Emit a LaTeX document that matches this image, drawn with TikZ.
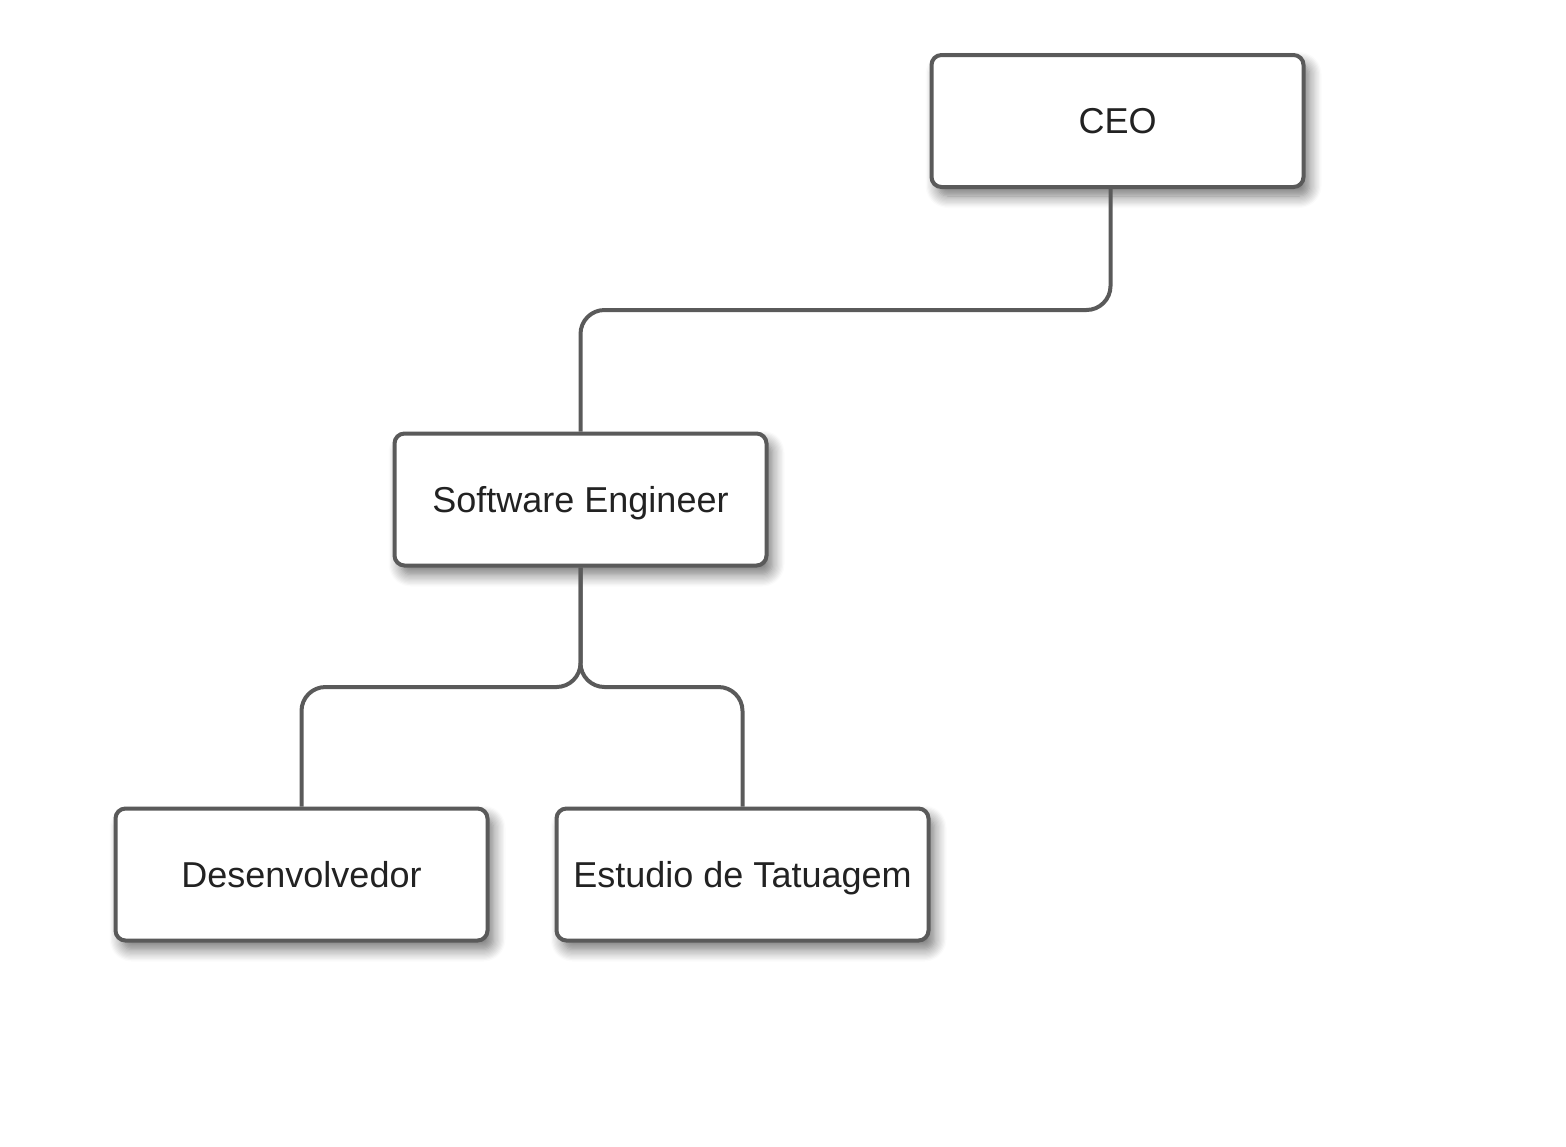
\documentclass[tikz,border=0pt]{standalone}
\usepackage{fontspec}
\setmainfont{Liberation Sans}
\usetikzlibrary{shadows.blur}
\definecolor{edgegray}{HTML}{5A5A5A}
\definecolor{txt}{HTML}{222222}
\tikzset{
  orgbox/.style={draw=edgegray, line width=2pt, fill=white, rounded corners=5pt,
    minimum width=186pt, minimum height=66pt, inner sep=0pt,
    font=\fontsize{18}{22}\selectfont, text=txt, text height=12.9pt, text depth=0pt,
    blur shadow={shadow xshift=3pt, shadow yshift=-4.5pt, shadow blur steps=10, shadow blur radius=6pt, shadow opacity=55}},
  link/.style={draw=edgegray, line width=2pt, rounded corners=12pt}
}
\begin{document}
\begin{tikzpicture}[x=0.5pt,y=-0.5pt]
\useasboundingbox (0,0) rectangle (1566,1146);
\node[orgbox] (ceo) at (1117.5,121) {CEO};
\node[orgbox] (se) at (580.5,499.5) {Software Engineer};
\node[orgbox] (dev) at (301.5,874.5) {Desenvolvedor};
\node[orgbox] (tat) at (742.5,874.5) {Estudio de Tatuagem};
\coordinate (j0) at (0,310);
\coordinate (j1) at (0,687);
\draw[link] ([xshift=-3.5]ceo.south) -- ([xshift=-3.5]ceo.south |- j0) -- (se.north |- j0) -- (se.north);
\draw[link] (se.south) -- (se.south |- j1) -- (dev.north |- j1) -- (dev.north);
\draw[link] (se.south) -- (se.south |- j1) -- (tat.north |- j1) -- (tat.north);
\end{tikzpicture}
\end{document}
